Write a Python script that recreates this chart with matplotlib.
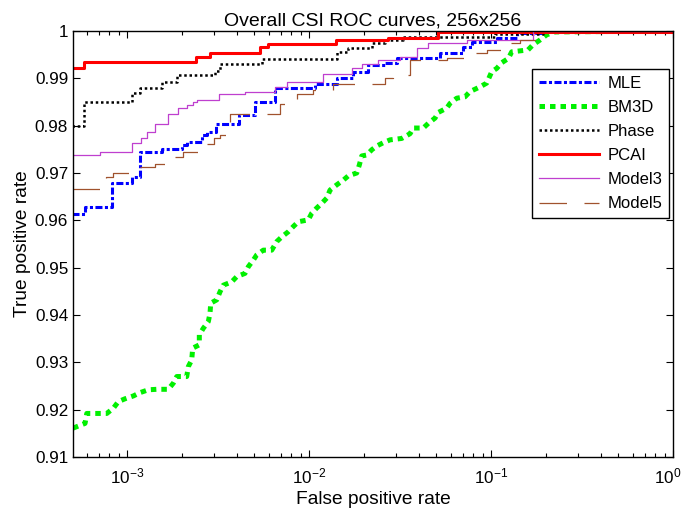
import matplotlib
matplotlib.use("Agg")
import matplotlib.pyplot as plt
from matplotlib.ticker import FixedLocator, LogLocator, NullFormatter
from matplotlib.transforms import ScaledTranslation

plt.rcParams["font.family"] = ["Liberation Sans", "DejaVu Sans"]
plt.rcParams["mathtext.fontset"] = "custom"
plt.rcParams["mathtext.rm"] = "Liberation Sans"

# ROC curves (false positive rate, true positive rate)
mle_fpr = [5e-4, 5.9e-4, 8.3e-4, 1.07e-3, 1.18e-3, 1.55e-3, 2.0e-3, 2.13e-3, 2.57e-3,
           2.74e-3, 3.1e-3, 4.1e-3, 5.05e-3, 6.5e-3, 1.08e-2, 1.43e-2, 1.75e-2, 2.1e-2,
           2.6e-2, 3.05e-2, 5.25e-2, 7.0e-2, 7.9e-2, 0.108, 0.139, 0.19, 1.0]
mle_tpr = [0.9613, 0.9629, 0.9678, 0.9692, 0.9745, 0.975, 0.9759, 0.9766, 0.978,
           0.9786, 0.9803, 0.9823, 0.9849, 0.9879, 0.9888, 0.990, 0.9914, 0.9928,
           0.9932, 0.9942, 0.9953, 0.9967, 0.9977, 0.9985, 0.9995, 1.0, 1.0]

bm3d_fpr = [5.05e-4, 5.88e-4, 6.01e-4, 7.74e-4, 8.41e-4, 8.96e-4, 9.75e-4, 1.083e-3,
            1.179e-3, 1.31e-3, 1.457e-3, 1.686e-3, 1.796e-3, 1.876e-3, 2.128e-3, 2.172e-3,
            2.267e-3, 2.296e-3, 2.496e-3, 2.496e-3, 2.626e-3, 2.797e-3, 2.858e-3, 2.884e-3,
            3.111e-3, 3.243e-3, 3.382e-3, 3.761e-3, 4.006e-3, 4.45e-3, 4.64e-3, 4.943e-3,
            5.16e-3, 5.61e-3, 6.24e-3, 6.645e-3, 7.08e-3, 7.70e-3, 8.20e-3, 8.73e-3,
            9.91e-3, 1.035e-2, 1.102e-2, 1.175e-2, 1.252e-2, 1.305e-2, 1.42e-2, 1.544e-2,
            1.644e-2, 1.829e-2, 1.89e-2, 1.948e-2, 2.075e-2, 2.211e-2, 2.355e-2, 2.56e-2,
            2.787e-2, 3.23e-2, 3.589e-2, 3.743e-2, 4.246e-2, 4.524e-2, 4.925e-2, 5.134e-2,
            5.71e-2, 5.954e-2, 6.48e-2, 7.196e-2, 7.665e-2, 8.70e-2, 9.47e-2, 0.1009,
            0.1075, 0.1145, 0.1245, 0.130, 0.1597, 0.1702, 0.1859, 0.2023, 0.2247, 1.0]
bm3d_tpr = [0.9161, 0.9171, 0.9192, 0.9192, 0.9203, 0.9217, 0.9223, 0.9229,
            0.9236, 0.9242, 0.9243, 0.9243, 0.9256, 0.927, 0.927, 0.9291,
            0.9305, 0.933, 0.9337, 0.9358, 0.9372, 0.9386, 0.9404, 0.9425,
            0.9432, 0.9449, 0.9463, 0.947, 0.9481, 0.9488, 0.9502, 0.9516,
            0.9527, 0.9537, 0.9537, 0.9555, 0.9565, 0.9576, 0.9587, 0.9597,
            0.9601, 0.9615, 0.9626, 0.9636, 0.9647, 0.9664, 0.9675, 0.9685,
            0.9694, 0.970, 0.9717, 0.9736, 0.9738, 0.9749, 0.9757, 0.9764,
            0.977, 0.9773, 0.9783, 0.9795, 0.9795, 0.9805, 0.9816, 0.9828,
            0.9837, 0.9847, 0.9858, 0.9861, 0.9872, 0.9882, 0.989, 0.9914,
            0.9921, 0.9933, 0.9942, 0.9956, 0.996, 0.9971, 0.9981, 0.9992, 0.9998, 1.0]

phase_fpr = [5e-4, 5.8e-4, 1.065e-3, 1.18e-3, 1.56e-3, 1.88e-3, 3.05e-3, 3.25e-3,
             5.5e-3, 1.43e-2, 1.64e-2, 2.22e-2, 2.6e-2, 3.28e-2, 0.105, 0.193, 1.0]
phase_tpr = [0.980, 0.9851, 0.9868, 0.9879, 0.9893, 0.9907, 0.9916, 0.9931,
             0.9940, 0.9956, 0.9964, 0.9974, 0.998, 0.9988, 0.9993, 1.0, 1.0]

pcai_fpr = [5e-4, 5.8e-4, 2.4e-3, 2.85e-3, 5.4e-3, 5.95e-3, 1.4e-2, 2.7e-2, 5.1e-2, 1.0]
pcai_tpr = [0.9922, 0.9935, 0.9945, 0.9954, 0.9966, 0.9973, 0.998, 0.9986, 0.9997, 1.0]

model3_fpr = [5e-4, 7.1e-4, 1.07e-3, 1.19e-3, 1.29e-3, 1.43e-3, 1.67e-3, 1.91e-3,
              2.13e-3, 2.31e-3, 2.42e-3, 3.2e-3, 4.45e-3, 6.5e-3, 7.6e-3, 1.19e-2,
              1.72e-2, 1.95e-2, 2.39e-2, 3.16e-2, 3.9e-2, 4.5e-2, 7.4e-2, 0.17, 1.0]
model3_tpr = [0.9738, 0.9744, 0.9763, 0.9773, 0.9787, 0.9803, 0.9824, 0.9837,
              0.9844, 0.9849, 0.9854, 0.9867, 0.9872, 0.9882, 0.9893, 0.991,
              0.9921, 0.993, 0.9939, 0.9945, 0.9965, 0.9974, 0.9981, 1.0, 1.0]

model5_fpr = [5e-4, 7.67e-4, 8.38e-4, 1.18e-3, 1.43e-3, 1.62e-3, 2.03e-3, 2.49e-3,
              3.01e-3, 3.25e-3, 3.68e-3, 6.93e-3, 8.6e-3, 1.05e-2, 1.36e-2, 2.62e-2,
              2.9e-2, 3.59e-2, 5.73e-2, 7.48e-2, 9.5e-2, 0.116, 0.144, 0.193, 1.0]
model5_tpr = [0.9666, 0.9692, 0.970, 0.9712, 0.972, 0.9734, 0.9745, 0.9761,
              0.9774, 0.978, 0.9824, 0.9845, 0.9867, 0.9875, 0.9888, 0.990,
              0.9907, 0.9939, 0.9944, 0.9953, 0.996, 0.9974, 0.998, 1.0, 1.0]

y_ticks = [0.91, 0.92, 0.93, 0.94, 0.95, 0.96, 0.97, 0.98, 0.99, 1.0]
y_labels = ["0.91", "0.92", "0.93", "0.94", "0.95", "0.96", "0.97", "0.98", "0.99", "1"]

fig = plt.figure(figsize=(6.85, 5.14), dpi=100)
ax = fig.add_axes([0.1066, 0.1109, 0.8759, 0.8288])

ax.step(mle_fpr, mle_tpr, where="post", color="#0000ff", lw=2.2,
        linestyle=(0, (2.3, 0.8, 1.0, 0.8)), label="MLE")
ax.plot(bm3d_fpr, bm3d_tpr, color="#00f000", lw=3.6,
        linestyle=(0, (1.1, 1.0)), label="BM3D")
ax.step(phase_fpr, phase_tpr, where="post", color="black", lw=1.8,
        linestyle=(0, (1.0, 1.1)), label="Phase")
ax.step(pcai_fpr, pcai_tpr, where="post", color="#ff0000", lw=2.2, label="PCAI")
ax.step(model3_fpr, model3_tpr, where="post", color="#bf3fcf", lw=0.9, label="Model3")
ax.step(model5_fpr, model5_tpr, where="post", color="#a0522d", lw=0.9,
        linestyle=(0, (22, 14)), label="Model5")

ax.set_xscale("log")
ax.set_xlim(5.05e-4, 1.0)
ax.set_ylim(0.91, 1.0)
ax.yaxis.set_major_locator(FixedLocator(y_ticks))
ax.set_yticklabels(y_labels)
ax.xaxis.set_major_locator(LogLocator(base=10, numticks=10))
ax.xaxis.set_minor_locator(LogLocator(base=10, subs=range(2, 10), numticks=20))
ax.xaxis.set_minor_formatter(NullFormatter())

ax.tick_params(which="both", direction="in", top=True, right=True, labelsize=12.3,
               width=0.8, colors="black")
ax.tick_params(which="major", length=5)
ax.tick_params(which="minor", length=3)
ax.tick_params(axis="x", pad=7)
for sp in ax.spines.values():
    sp.set_linewidth(1.0)

ax.set_title("Overall CSI ROC curves, 256x256", fontsize=14, pad=4)
ax.set_xlabel("False positive rate", fontsize=13.8, labelpad=3)
ax.set_ylabel("True positive rate", fontsize=13.8, labelpad=3)

leg = ax.legend(loc="upper right", bbox_to_anchor=(0.993, 0.911), fontsize=12,
                handlelength=3.6, handletextpad=0.5, labelspacing=0.55,
                borderpad=0.4, borderaxespad=0, fancybox=False, framealpha=1)
leg.get_frame().set_edgecolor("black")
leg.get_frame().set_linewidth(1.0)

# nudge the 10^0 label left a little so it stays inside the canvas
fig.canvas.draw()
for lab in ax.get_xticklabels():
    if "{0}" in lab.get_text():
        lab.set_transform(lab.get_transform() + ScaledTranslation(-4 / 72, 0, fig.dpi_scale_trans))

fig.savefig("out.png", dpi=100)
